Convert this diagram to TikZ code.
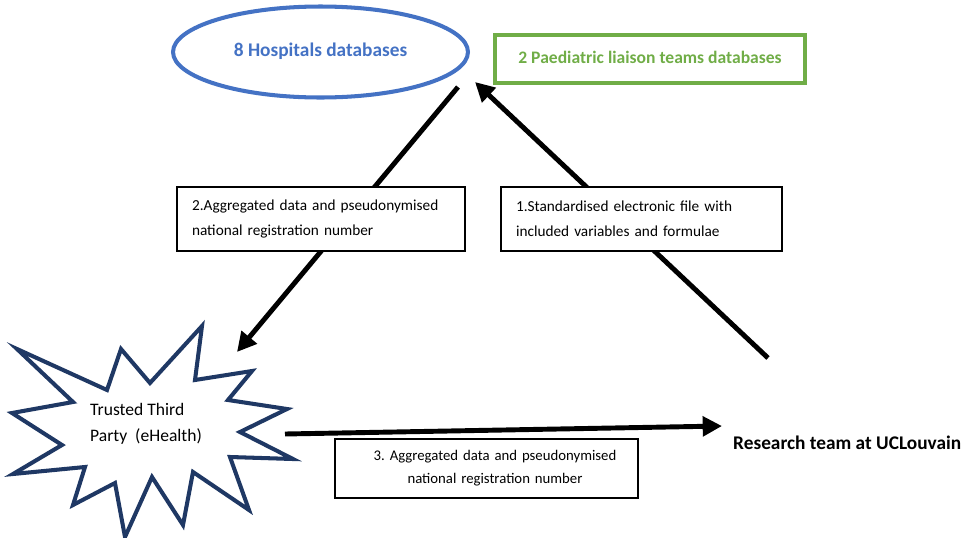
\documentclass[tikz,border=0pt]{standalone}
\usepackage{fontspec}
\setmainfont{Carlito}
\usepackage{xcolor}
\usetikzlibrary{shapes.geometric,arrows.meta}
\frenchspacing

\definecolor{hospblue}{HTML}{4472C4}
\definecolor{paedgreen}{HTML}{70AD47}
\definecolor{starnavy}{HTML}{1F3864}

\tikzset{
  flow/.style={line width=2.8pt, -{Triangle[length=11pt,width=11pt]}},
  stepbox/.style={draw, line width=1.1pt, fill=white, font=\fontsize{8.7}{14}\selectfont,
                  minimum height=1.28cm, inner xsep=0.3cm},
}

\begin{document}
\begin{tikzpicture}[x=0.02cm,y=-0.02cm]
                \useasboundingbox (0,0) rectangle (961,538);

                % databases
                \node[draw=hospblue, line width=2.3pt, ellipse, minimum width=5.9cm, minimum height=1.82cm,
                      text=hospblue, font=\bfseries\fontsize{11}{13}\selectfont] (hosp) at (320.5,52) {\raisebox{3pt}{8 Hospitals databases}};
                \node[draw=paedgreen, line width=2.3pt, minimum width=6.2cm, minimum height=0.96cm,
                      text=paedgreen, font=\bfseries\fontsize{10}{12}\selectfont] (paed) at (650,59) {\raisebox{1.5pt}{2 Paediatric liaison teams databases}};

                % trusted third party
                \draw[starnavy, line width=2.3pt, fill=white]
                  (17,349) -- (107,390) -- (121,349) -- (150,383) -- (202,326) -- (195,380)
                  -- (252,371) -- (228,400) -- (287,409) -- (240,432) -- (293,459) -- (230,457)
                  -- (249,510) -- (193,472) -- (183,525) -- (152,477) -- (125,537) -- (115,483)
                  -- (73,505) -- (85,467) -- (13,474) -- (62,445) -- (12,413) -- (73,402) -- cycle;
                \node[align=left, anchor=west, font=\fontsize{10}{15}\selectfont] (ttp) at (84,424) {Trusted Third\\Party~ (eHealth)};

                % research team
                \node[anchor=west, font=\bfseries\fontsize{11}{13}\selectfont] (uclv) at (727,443) {Research team at UCLouvain};

                % arrow ends
                \coordinate (s1) at (768,358);
                \coordinate (e1) at (475,82);
                \coordinate (s2) at (458,87);
                \coordinate (e2) at (237,352);
                \coordinate (s3) at (285,434);
                \coordinate (e3) at (722,426);

                \draw[flow] (s1) -- (e1);
                \draw[flow] (s2) -- (e2);
                \draw[flow] (s3) -- (e3);

                % steps
                \node[stepbox, text width=5.16cm, align=left] (st2) at (321,219) {2.Aggregated data and pseudonymised\\national registration number};
                \node[stepbox, text width=5.02cm, align=left] (st1) at (641.5,219) {1.Standardised electronic file with\\included variables and formulae};
                \node[stepbox, text width=5.46cm, align=center, minimum height=1.18cm,
                      font=\fontsize{8.4}{13}\selectfont] (st3) at (486.5,468.5) {\hspace*{0.34cm}3. Aggregated data and pseudonymised\\\hspace*{0.34cm}national registration number};

        \end{tikzpicture}
\end{document}
